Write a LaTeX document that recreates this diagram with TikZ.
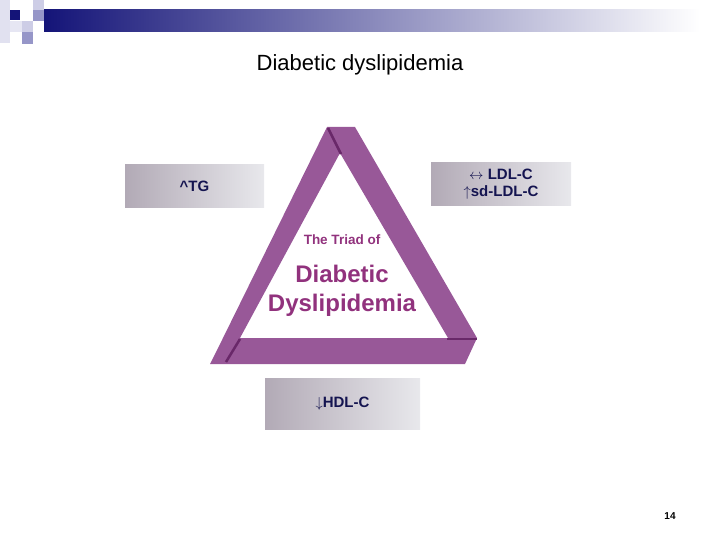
\documentclass[tikz,border=0pt]{standalone}
\usepackage{fontspec}
\setmainfont{Liberation Sans}
\usetikzlibrary{positioning}
\definecolor{navybg}{RGB}{20,20,120}
\definecolor{lavlight}{RGB}{205,205,230}
\definecolor{lavmid}{RGB}{150,150,200}
\definecolor{triadpurple}{RGB}{152,88,152}
\definecolor{triaddark}{RGB}{105,40,105}
\definecolor{triadtext}{RGB}{145,50,125}
\definecolor{boxleft}{RGB}{178,170,182}
\definecolor{boxright}{RGB}{232,232,236}
\definecolor{labeltext}{RGB}{20,20,80}
\begin{document}
\begin{tikzpicture}[x=1pt, y=-1pt,
    panel/.style={rectangle, left color=boxleft, right color=boxright, align=center, font=\bfseries\fontsize{15}{17}\selectfont, text=labeltext},
    seam/.style={triaddark, line width=2.5pt}
]
\useasboundingbox (0,0) rectangle (720,540);

% Header bar
\fill[lavlight!60] (0,0) rectangle (10,43);
\fill[lavlight] (33,0) rectangle (44,10);
\fill[lavmid] (33,10) rectangle (44,21);
\fill[lavlight] (22,21) rectangle (33,32);
\fill[lavmid] (22,32) rectangle (33,44);
\fill[lavlight!50] (10,21) rectangle (22,32);
\fill[navybg] (10,10) rectangle (20,20);
\shade[left color=navybg, right color=white] (44,10) rectangle (700,32);

% Title
\node[font=\fontsize{22}{26}\selectfont] (title) at (360,65) {Diabetic dyslipidemia};

% Triangle band
\fill[triadpurple, even odd rule]
    (327,127) -- (355,127) -- (477,338) -- (465,364) -- (210,364) -- (222,340) -- cycle
    (240,338) -- (448,338) -- (340,153) -- cycle;
\draw[seam] (328,128) -- (341,154);
\draw[seam] (240,339) -- (226,362);
\draw[seam] (447,339) -- (477,339);

% Centre text
\node[text=triadtext, font=\bfseries\fontsize{13.5}{15}\selectfont] (triad) at (342,240) {The Triad of};
\node[text=triadtext, font=\bfseries\fontsize{24}{29}\selectfont, align=center] (diabetic) at (342,291) {Diabetic\\Dyslipidemia};

% Boxes
\node[panel, minimum width=139pt, minimum height=43pt] (tg) at (194.5,186.5) {\textasciicircum TG};
\node[panel, minimum width=140pt, minimum height=43pt] (ldl) at (501,184.5) {$\leftrightarrow$ LDL-C\\$\uparrow$sd-LDL-C};
\node[panel, minimum width=155pt, minimum height=51pt] (hdl) at (342.5,403.5) {$\downarrow$HDL-C};

% Page number
\node[font=\bfseries\fontsize{10}{12}\selectfont] (page) at (670,516) {14};
\end{tikzpicture}
\end{document}
